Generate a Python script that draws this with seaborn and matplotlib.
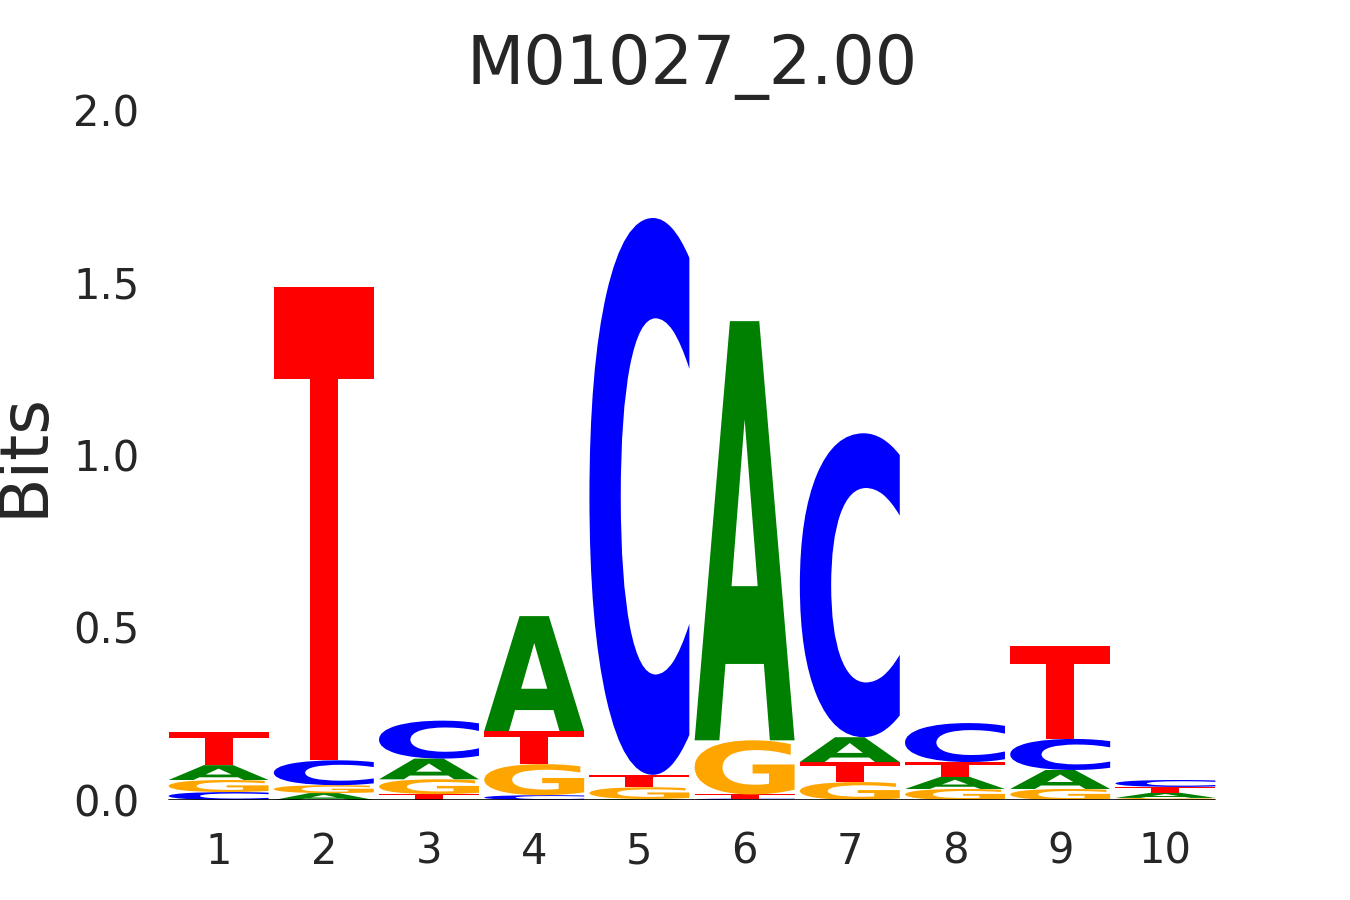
import numpy as np
import pandas as pd
import matplotlib
matplotlib.use("Agg")
import matplotlib.pyplot as plt
import seaborn as sns
from matplotlib.textpath import TextPath
from matplotlib.patches import PathPatch
from matplotlib.font_manager import FontProperties
import matplotlib.transforms as mtransforms

# ---- data (information content in bits per letter) ----
positions = [1, 2, 3, 4, 5, 6, 7, 8, 9, 10]
bits_A = [0.043, 0.020, 0.060, 0.333, 0.003, 1.215, 0.072, 0.035, 0.055, 0.015]
bits_C = [0.023, 0.072, 0.110, 0.014, 1.614, 0.004, 0.881, 0.113, 0.090, 0.020]
bits_G = [0.035, 0.023, 0.043, 0.090, 0.034, 0.157, 0.052, 0.032, 0.032, 0.006]
bits_T = [0.096, 1.372, 0.017, 0.096, 0.036, 0.012, 0.058, 0.043, 0.270, 0.017]
title_text = "M01027_2.00"
y_ticks = [0.0, 0.5, 1.0, 1.5, 2.0]

letter_colors = {"A": "#008000", "C": "#0000FF", "G": "#FFA500", "T": "#FF0000"}

df = pd.DataFrame({"A": bits_A, "C": bits_C, "G": bits_G, "T": bits_T}, index=positions)

sns.set_theme(style="white")
plt.rcParams["font.family"] = ["DejaVu Sans"]

fig = plt.figure(figsize=(13.5, 9), dpi=100)
ax = fig.add_axes([166 / 1350, 1 - 800 / 900, 1052 / 1350, 690 / 900])

glyph_font = FontProperties(family="DejaVu Sans", weight="bold")
WIDTH = 0.95


def draw_letter(ax, ch, x, y0, h, color):
    tp = TextPath((0, 0), ch, size=1, prop=glyph_font)
    ext = tp.get_extents()
    tr = (mtransforms.Affine2D()
          .translate(-ext.x0, -ext.y0)
          .scale(WIDTH / ext.width, h / ext.height)
          .translate(x - WIDTH / 2, y0))
    path = tr.transform_path(tp)
    ax.add_patch(PathPatch(path, facecolor=color, edgecolor="none", lw=0))


for pos, row in df.iterrows():
    y = 0.0
    for ch, h in sorted(row.items(), key=lambda kv: kv[1]):
        if h > 0:
            draw_letter(ax, ch, pos, y, h, letter_colors[ch])
            y += h

ax.plot([positions[0] - WIDTH / 2, positions[-1] + WIDTH / 2], [0, 0],
        color="black", lw=1.2, zorder=3)

ax.set_xlim(positions[0] - 0.5, positions[-1] + 0.5)
ax.set_ylim(0, 2.0)
ax.set_xticks(positions)
ax.set_xticklabels([str(p) for p in positions])
ax.set_yticks(y_ticks)
ax.set_yticklabels([f"{v:.1f}" for v in y_ticks])
ax.tick_params(axis="both", length=0, labelsize=30, colors="#262626")
ax.tick_params(axis="x", pad=22)
ax.tick_params(axis="y", pad=19)
sns.despine(ax=ax, left=True, bottom=True, top=True, right=True)

ax.set_ylabel("Bits", fontsize=48, color="#262626")
ax.yaxis.set_label_coords(-0.104, 0.5)
ax.set_title(title_text, fontsize=48, color="#262626", pad=19)

fig.savefig("out.png", dpi=100)
